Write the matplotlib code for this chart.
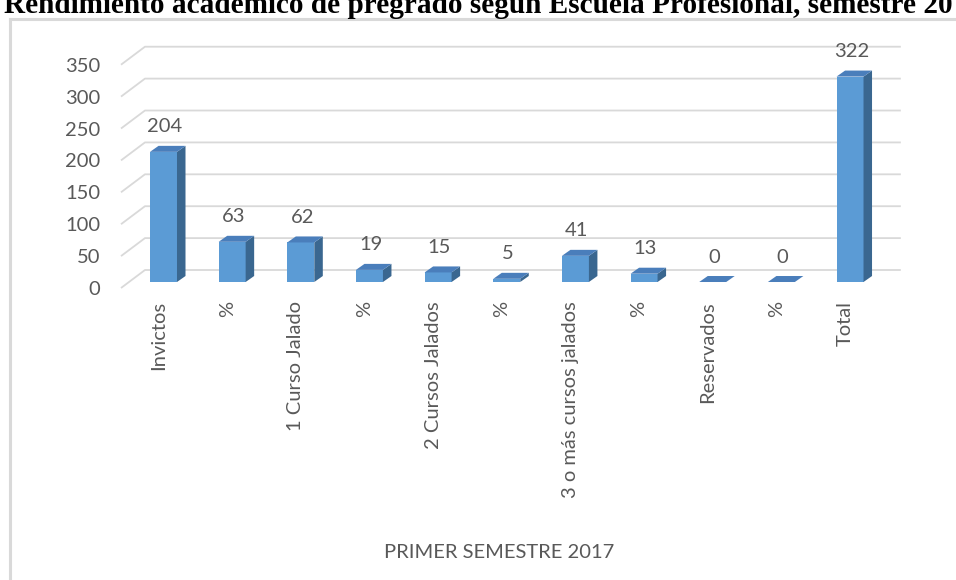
import matplotlib
matplotlib.use("Agg")
import matplotlib.pyplot as plt
import matplotlib.transforms as mtransforms
from matplotlib.patches import Polygon
from matplotlib.lines import Line2D
import numpy as np

# ---- data ----
categories = ["Invictos", "%", "1 Curso Jalado", "%", "2 Cursos Jalados", "%",
              "3 o más cursos jalados", "%", "Reservados", "%", "Total"]
values = [204, 63, 62, 19, 15, 5, 41, 13, 0, 0, 322]
y_ticks = [0, 50, 100, 150, 200, 250, 300, 350]
title_visible = "Rendimiento académico de pregrado según Escuela Profesional, semestre 20"
x_title = "PRIMER SEMESTRE 2017"

# ---- style ----
W, H = 956, 580
FONT = "Lato"
TXT = "#595959"
FRONT = "#5B9BD5"
SIDE = "#3A6790"
TOP = "#4A7EBB"
GRID = "#D9D9D9"
FS = 14.5

fig = plt.figure(figsize=(W / 100, H / 100), dpi=100)
fig.patch.set_facecolor("white")

# axes placed in pixel space: left = front edge of floor, bottom = front zero line
ax_l, ax_r, ax_t, ax_b = 121, 902, 30, 288
ax = fig.add_axes([ax_l / W, 1 - ax_b / H, (ax_r - ax_l) / W, (ax_b - ax_t) / H])
ax.set_xlim(-0.619, 10.757)
ax.set_ylim(-9.4, 395.0)
for s in ax.spines.values():
    s.set_visible(False)
ax.set_facecolor("none")

# 3D offsets (data units)
floor_front_dy = -9.4
floor_back_dy = 18.8
x_front = -0.619
x_back = -0.27
x_right = 10.74
bar_w = 0.393
depth_dx = 0.124
depth_dy = 9.4

# gridlines (back wall + left floor diagonal)
for v in y_ticks:
    ax.plot([x_front, x_back, x_right],
            [v + floor_front_dy, v + floor_back_dy, v + floor_back_dy],
            color=GRID, lw=1.3, clip_on=False, zorder=1, solid_capstyle="butt")

x = np.arange(len(values))
bars = ax.bar(x, values, width=bar_w, color=FRONT, zorder=3, linewidth=0)
for b, v in zip(bars, values):
    x0 = b.get_x()
    w = b.get_width()
    side = Polygon([(x0 + w, 0), (x0 + w + depth_dx, depth_dy),
                    (x0 + w + depth_dx, v + depth_dy), (x0 + w, v)],
                   closed=True, facecolor=SIDE, edgecolor="none", zorder=3)
    top = Polygon([(x0, v), (x0 + w, v), (x0 + w + depth_dx, v + depth_dy),
                   (x0 + depth_dx, v + depth_dy)],
                  closed=True, facecolor=TOP, edgecolor="none", zorder=4)
    ax.add_patch(side)
    ax.add_patch(top)
    ax.text(b.get_x() + w / 2 + 0.02, v + 39, str(v), ha="center", va="center",
            fontsize=FS, color=TXT, fontfamily=FONT, zorder=5)

# y ticks (positioned at the front floor edge)
ax.set_yticks([v + floor_front_dy for v in y_ticks])
ax.set_yticklabels([str(v) for v in y_ticks], fontsize=FS, color=TXT, fontfamily=FONT)
ax.tick_params(axis="y", length=0, pad=15)

# x ticks
ax.set_xticks(x)
ax.set_xticklabels(categories, rotation=90, fontsize=FS, color=TXT, fontfamily=FONT,
                   ha="center", va="top")
ax.tick_params(axis="x", length=0, pad=9.4)
off = mtransforms.ScaledTranslation(-5 / 100, 0, fig.dpi_scale_trans)
for lab in ax.get_xticklabels():
    lab.set_transform(lab.get_transform() + off)

# axis title
fig.text(499 / W, 1 - 553 / H, x_title, ha="center", va="center",
         fontsize=FS, color=TXT, fontfamily=FONT)

# chart frame
fy = 19
fig.add_artist(Line2D([9.5 / W, 9.5 / W], [0, 1 - fy / H], color=GRID, lw=2.2,
                      transform=fig.transFigure))
fig.add_artist(Line2D([9.5 / W, 1], [1 - fy / H, 1 - fy / H], color=GRID, lw=2.2,
                      transform=fig.transFigure))

# title (cut at the top like the reference)
probe = fig.text(4 / W, 1 - 13 / H, title_visible, fontsize=20, fontweight="bold",
                 fontfamily="Liberation Serif", va="baseline")
fig.canvas.draw()
wpx = probe.get_window_extent().width
probe.remove()
tfs = 20 * 950 / wpx
fig.text(4 / W, 1 - 13 / H, title_visible, fontsize=tfs, fontweight="bold",
         fontfamily="Liberation Serif", va="baseline", color="black")

fig.savefig("out.png", dpi=100, facecolor="white")
